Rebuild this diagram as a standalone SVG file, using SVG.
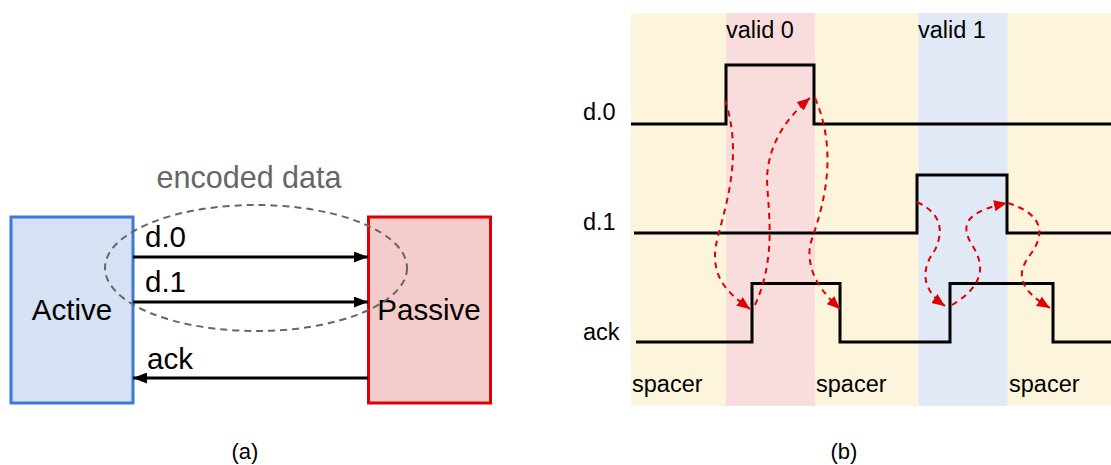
<svg xmlns="http://www.w3.org/2000/svg" width="1111" height="465" viewBox="0 0 1111 465">
<style>
text{font-family:"Liberation Sans",Arial,sans-serif;fill:#000}
.wire{stroke:#000;stroke-width:3;fill:none}
.sig{stroke:#000;stroke-width:3;fill:none;stroke-linejoin:miter}
.dep{stroke:#e00000;stroke-width:2;stroke-dasharray:6,5;fill:none}
.big{font-size:29.500px}
.lbl{font-size:23.500px}
.cap{font-size:22px}
</style>
<defs>
<marker id="ah" viewBox="0 0 14 11" refX="14" refY="5.500" markerWidth="14" markerHeight="11" markerUnits="userSpaceOnUse" orient="auto">
<path d="M0,0 L14,5.500 L0,11 z" fill="#000"/>
</marker>
<marker id="rh" viewBox="0 0 13 11" refX="13" refY="5.500" markerWidth="13" markerHeight="11" markerUnits="userSpaceOnUse" orient="auto">
<path d="M0,0 L13,5.500 L0,11 z" fill="#e00000"/>
</marker>
</defs>
<rect width="1111" height="465" fill="#fff"/>

<!-- (a) -->
<g id="active">
<rect x="11" y="217" width="122" height="186" fill="#d5e2f4" stroke="#3c78d8" stroke-width="3"/>
<text x="72" y="320" class="big" text-anchor="middle">Active</text>
</g>
<g id="passive">
<rect x="368.500" y="217" width="122" height="186" fill="#f4cccc" stroke="#e00000" stroke-width="3"/>
<text x="429" y="320" class="big" text-anchor="middle">Passive</text>
</g>
<g id="connectors">
<line x1="133" y1="257" x2="368" y2="257" class="wire" marker-end="url(#ah)"/>
<line x1="133" y1="302" x2="368" y2="302" class="wire" marker-end="url(#ah)"/>
<line x1="368" y1="378" x2="133" y2="378" class="wire" marker-end="url(#ah)"/>
<text x="145" y="247" class="big">d.0</text>
<text x="145" y="292" class="big">d.1</text>
<text x="147" y="369" class="big">ack</text>
</g>
<g id="encoded">
<ellipse cx="256" cy="268" rx="151" ry="63" fill="none" stroke="#666" stroke-width="2" stroke-dasharray="7,5"/>
<text x="249" y="188" font-size="30.500" text-anchor="middle" style="fill:#666">encoded data</text>
</g>
<text x="245" y="459" class="cap" text-anchor="middle">(a)</text>

<!-- (b) -->
<g id="bands">
<rect x="631" y="13" width="480" height="393" fill="#fdf4dc"/>
<rect x="726" y="13" width="89" height="393" fill="#f9dddd"/>
<rect x="918.500" y="13" width="89" height="393" fill="#e2e9f6"/>
<text x="726" y="38" class="lbl">valid 0</text>
<text x="918" y="38" class="lbl">valid 1</text>
<text x="632" y="392" class="lbl">spacer</text>
<text x="816" y="392" class="lbl">spacer</text>
<text x="1009" y="392" class="lbl">spacer</text>
</g>
<g id="signals">
<text x="583" y="120" class="lbl">d.0</text>
<text x="583" y="230" class="lbl">d.1</text>
<text x="583" y="340" class="lbl">ack</text>
<polyline class="sig" points="631,124 726,124 726,65 814,65 814,124 1111,124"/>
<polyline class="sig" points="634,233 917,233 917,175 1007,175 1007,233 1111,233"/>
<polyline class="sig" points="636,342 752,342 752,283.500 840,283.500 840,342 950,342 950,283.500 1053,283.500 1053,342 1111,342"/>
</g>
<g id="dependencies">
<path class="dep" marker-end="url(#rh)" d="M725,100 C745,160 722,215 716,245 C710,280 732,296 750,309"/>
<path class="dep" marker-end="url(#rh)" d="M755,305 C778,255 767,205 767,177 C769,140 790,115 810,98"/>
<path class="dep" marker-end="url(#rh)" d="M815,98 C842,160 818,220 810,245 C806,275 825,295 840,309"/>
<path class="dep" marker-end="url(#rh)" d="M917,202 C945,215 942,235 935,250 C920,270 922,290 945,306"/>
<path class="dep" marker-end="url(#rh)" d="M952,305 C985,285 985,265 972,245 C960,225 965,212 1007,203"/>
<path class="dep" marker-end="url(#rh)" d="M1008,203 C1045,215 1045,235 1030,255 C1015,275 1020,290 1050,308"/>
</g>
<text x="844" y="459" class="cap" text-anchor="middle">(b)</text>
</svg>
